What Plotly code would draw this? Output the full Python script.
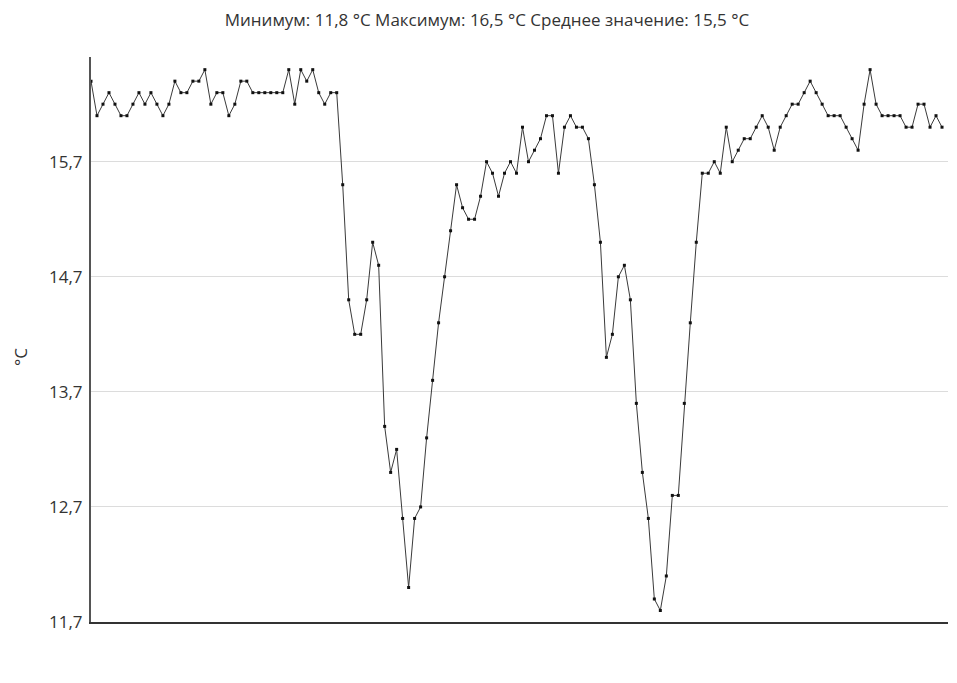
import plotly.graph_objects as go

temps_part1 = [16.4, 16.1, 16.2, 16.3, 16.2, 16.1, 16.1, 16.2, 16.3, 16.2,
               16.3, 16.2, 16.1, 16.2, 16.4, 16.3, 16.3, 16.4, 16.4, 16.5,
               16.2, 16.3, 16.3, 16.1, 16.2, 16.4, 16.4, 16.3, 16.3, 16.3,
               16.3, 16.3, 16.3, 16.5, 16.2, 16.5, 16.4, 16.5, 16.3, 16.2,
               16.3, 16.3]
temps_part2 = [15.5, 14.5, 14.2, 14.2, 14.5, 15.0, 14.8, 13.4, 13.0, 13.2,
               12.6, 12.0, 12.6, 12.7, 13.3, 13.8, 14.3, 14.7, 15.1, 15.5]
temps_part3 = [15.3, 15.2, 15.2, 15.4, 15.7, 15.6, 15.4, 15.6, 15.7, 15.6,
               16.0, 15.7, 15.8, 15.9, 16.1, 16.1, 15.6, 16.0, 16.1, 16.0,
               16.0, 15.9, 15.5, 15.0, 14.0, 14.2, 14.7, 14.8, 14.5, 13.6,
               13.0, 12.6, 11.9, 11.8, 12.1, 12.8, 12.8, 13.6, 14.3, 15.0,
               15.6, 15.6, 15.7, 15.6, 16.0, 15.7, 15.8, 15.9, 15.9, 16.0,
               16.1, 16.0, 15.8, 16.0, 16.1, 16.2, 16.2, 16.3, 16.4, 16.3,
               16.2, 16.1, 16.1, 16.1, 16.0, 15.9, 15.8, 16.2, 16.5, 16.2,
               16.1, 16.1, 16.1, 16.1, 16.0, 16.0, 16.2, 16.2, 16.0, 16.1,
               16.0]
temps = temps_part1 + temps_part2 + temps_part3
sample_index = list(range(len(temps)))

y_tick_values = [11.7, 12.7, 13.7, 14.7, 15.7]
y_tick_labels = ["11,7", "12,7", "13,7", "14,7", "15,7"]
title_text = "Минимум: 11,8 °C Максимум: 16,5 °C Среднее значение: 15,5 °C"
y_axis_title = "°C"

fig = go.Figure()
fig.add_trace(go.Scatter(
    x=sample_index, y=temps, mode="lines+markers",
    line=dict(color="#3a3a3a", width=1),
    marker=dict(symbol="square", size=3, color="#111111"),
    showlegend=False, hoverinfo="y",
))

font_family = "Open Sans, Noto Sans, sans-serif"
W, H = 941, 667
fig.update_layout(
    width=W, height=H,
    paper_bgcolor="white", plot_bgcolor="white",
    margin=dict(l=83, r=1, t=49, b=53),
    font=dict(family=font_family, color="#333333"),
    title=dict(text=title_text, x=0.509, xanchor="center", y=1 - 12 / H, yanchor="middle",
               font=dict(size=17, color="#333333", family=font_family)),
    annotations=[dict(
        text=y_axis_title, textangle=-90, xref="paper", yref="paper",
        x=(20 - 8 - 83) / (W - 84), y=1 - (357 - 57) / 565,
        xanchor="center", yanchor="middle", showarrow=False,
        font=dict(size=17, color="#333333", family=font_family),
    )],
)
fig.update_xaxes(
    range=[0, 143], showgrid=False, showticklabels=False, ticks="",
    showline=True, linecolor="#333333", linewidth=2, zeroline=False,
)
fig.update_yaxes(
    range=[11.7, 16.61], tickvals=y_tick_values, ticktext=y_tick_labels,
    showgrid=True, gridcolor="#dcdcdc", gridwidth=1, automargin=False,
    showline=True, linecolor="#555555", linewidth=2, zeroline=False,
    ticks="", ticklabelstandoff=3,
    tickfont=dict(size=17, color="#333333", family=font_family),
)
fig.write_html("out.html")
